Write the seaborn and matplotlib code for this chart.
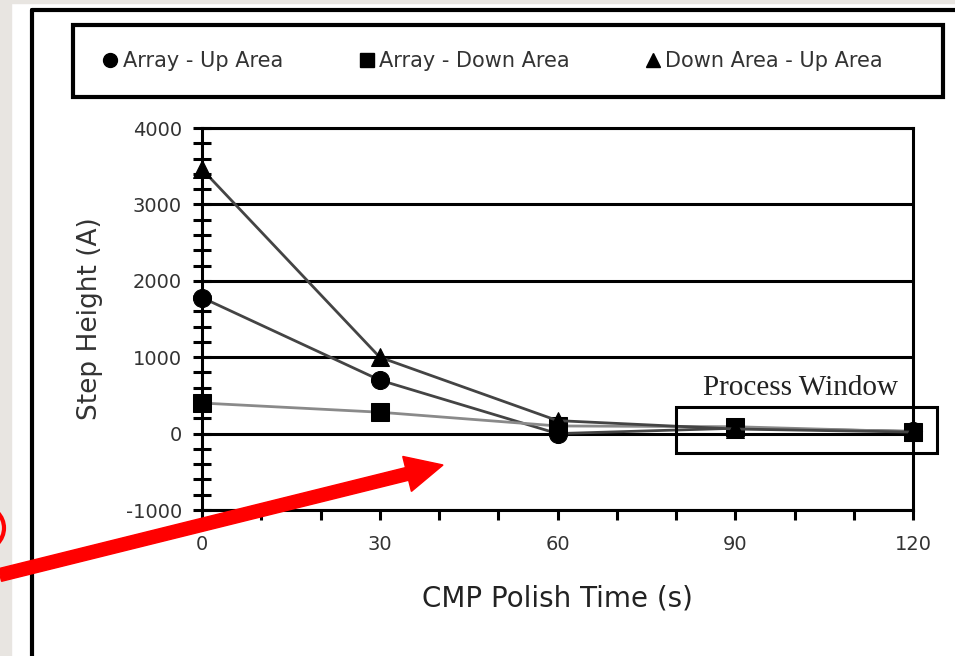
import numpy as np
import pandas as pd
import matplotlib
matplotlib.use("Agg")
import matplotlib.pyplot as plt
from matplotlib.lines import Line2D
from matplotlib.patches import Rectangle, FancyArrow, Circle
from matplotlib.ticker import MultipleLocator
import seaborn as sns

# values
polish_time = [0, 30, 60, 90, 120]
array_up = [1780, 700, 0, 70, 30]
array_down = [400, 280, 100, 90, 25]
down_up = [3460, 1000, 170, 60, 20]
series_names = ["Array - Up Area", "Array - Down Area", "Down Area - Up Area"]
series_markers = {"Array - Up Area": "o", "Array - Down Area": "s", "Down Area - Up Area": "^"}
series_lines = {"Array - Up Area": "#444444", "Array - Down Area": "#8a8a8a", "Down Area - Up Area": "#444444"}
window_x = (80, 124)
window_y = (-250, 350)

df = pd.DataFrame({
    "time": polish_time * 3,
    "height": array_up + array_down + down_up,
    "series": np.repeat(series_names, len(polish_time)),
})

sns.set_style("white")
plt.rcParams["font.family"] = ["DejaVu Sans"]
plt.rcParams["axes.unicode_minus"] = False

fig = plt.figure(figsize=(9.55, 6.56), dpi=100)
ax = fig.add_axes([202 / 955, 1 - 510 / 656, 711 / 955, 382 / 656])

sns.lineplot(data=df, x="time", y="height", hue="series", style="series",
             markers=series_markers, dashes=False, palette=series_lines,
             linewidth=2.0, markersize=13, legend=False, ax=ax)
for ln in ax.get_lines():
    ln.set_markerfacecolor("black")
    ln.set_markeredgecolor("black")
    ln.set_clip_on(False)
    ln.set_zorder(4)

ax.set_xlim(0, 120)
ax.set_ylim(-1000, 4000)
ax.xaxis.set_major_locator(MultipleLocator(30))
ax.xaxis.set_minor_locator(MultipleLocator(10))
ax.yaxis.set_major_locator(MultipleLocator(1000))
ax.yaxis.set_minor_locator(MultipleLocator(200))
ax.tick_params(axis="y", which="both", direction="inout", length=13, width=2.2,
               color="black", left=True)
ax.tick_params(axis="y", which="major", labelsize=14, labelcolor="#333333", pad=8)
ax.tick_params(axis="x", which="both", direction="out", length=7, width=2.2,
               color="black", bottom=True)
ax.tick_params(axis="x", which="major", labelsize=14, labelcolor="#333333", pad=11)
ax.grid(axis="y", which="major", color="black", linewidth=2.2)
ax.set_axisbelow(True)
for sp in ax.spines.values():
    sp.set_color("black")
    sp.set_linewidth(2.2)
    sp.set_visible(True)

ax.set_xlabel("CMP Polish Time (s)", fontsize=20, color="#222222", labelpad=22)
ax.set_ylabel("Step Height (A)", fontsize=19, color="#333333", labelpad=16)

# process window
ax.add_patch(Rectangle((window_x[0], window_y[0]), window_x[1] - window_x[0],
                       window_y[1] - window_y[0], fill=False, edgecolor="black",
                       linewidth=2.2, clip_on=False, zorder=5))
ax.text(101, 510, "Process Window", family="Liberation Serif", fontsize=21,
        ha="center", va="baseline", color="#222222")

# legend box with entries placed like the reference
fig.add_artist(Rectangle((73 / 955, 1 - 97 / 656), 870 / 955, 72 / 656,
                         transform=fig.transFigure, fill=False,
                         edgecolor="black", linewidth=3))
handles = [Line2D([], [], linestyle="none", marker=series_markers[n], color="black",
                  markersize=10) for n in series_names]
leg = fig.legend(handles, series_names, loc="center left",
                 bbox_to_anchor=(100 / 955, 1 - 61 / 656),
                 ncol=3, fontsize=15, handlelength=1.0,
                 handletextpad=0.1, columnspacing=3.5, borderpad=0,
                 borderaxespad=0, frameon=False)
for t in leg.get_texts():
    t.set_color("#333333")

# slide decorations around the pasted figure
fig.add_artist(Rectangle((0, 0), 11 / 955, 1, transform=fig.transFigure,
                         color="#e8e5e1", zorder=0))
fig.add_artist(Rectangle((0, 1 - 3 / 656), 1, 3 / 656, transform=fig.transFigure,
                         color="#e8e5e1", zorder=0))
fig.add_artist(Line2D([32 / 955, 32 / 955], [0, 1 - 10 / 656], transform=fig.transFigure,
                      color="black", linewidth=3))
fig.add_artist(Line2D([32 / 955, 1], [1 - 10 / 656, 1 - 10 / 656], transform=fig.transFigure,
                      color="black", linewidth=3))
fig.add_artist(Circle((-0.18, 1.28), 0.22, transform=fig.dpi_scale_trans,
                      fill=False, edgecolor="red", linewidth=3))
fig.add_artist(FancyArrow(0, 0.81, 4.43, 1.10, width=0.13, head_width=0.36,
                          head_length=0.37, length_includes_head=True,
                          color="#ff0000", transform=fig.dpi_scale_trans, zorder=10))

fig.savefig("out.png", dpi=100)
